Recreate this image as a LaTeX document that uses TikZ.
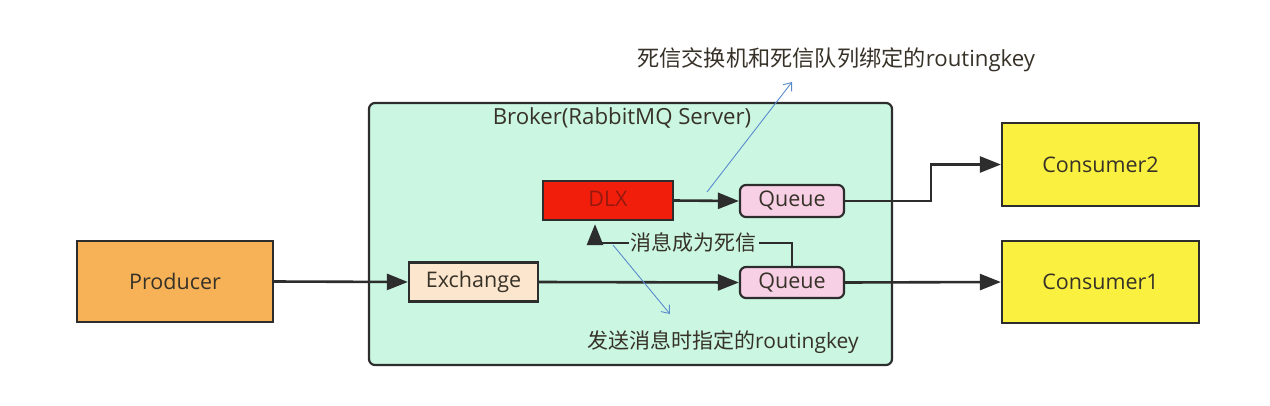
\documentclass[tikz,border=0pt]{standalone}
\usepackage{fontspec}
\setmainfont{Open Sans}
\newfontfamily\cjkf{Noto Sans CJK SC}
\newcommand\zh[1]{{\cjkf #1}}
\usetikzlibrary{arrows.meta,calc}
\definecolor{brokerfill}{RGB}{202,246,226}
\definecolor{prodfill}{RGB}{247,178,88}
\definecolor{exfill}{RGB}{252,230,206}
\definecolor{dlxfill}{RGB}{240,30,10}
\definecolor{dlxtext}{RGB}{150,25,15}
\definecolor{qfill}{RGB}{248,208,230}
\definecolor{consfill}{RGB}{250,240,64}
\definecolor{linec}{RGB}{45,45,45}
\definecolor{textc}{RGB}{55,50,40}
\definecolor{bluec}{RGB}{90,140,205}
\tikzset{
  box/.style={draw=linec, line width=2.2pt, font=\fontsize{21.5}{24}\selectfont, text=textc, inner sep=0pt},
  arr/.style={draw=linec, line width=2.6pt, -{Triangle[length=21pt,width=16pt]}},
  bluearr/.style={draw=bluec, line width=0.9pt, -{Straight Barb[length=7pt,width=11pt]}},
  lbl/.style={font=\fontsize{21}{24}\selectfont, text=textc, inner sep=1pt},
  biglbl/.style={font=\fontsize{22.2}{26}\selectfont, text=textc, inner sep=1pt}
}
\begin{document}
\begin{tikzpicture}[x=1pt,y=-1pt]
\useasboundingbox (0,0) rectangle (1270,405);
% broker
\node[box, fill=brokerfill, rounded corners=6pt, minimum width=523pt, minimum height=262pt] (broker) at (630.5,234) {};
\node[biglbl, anchor=center] (brokerlbl) at (622,118) {Broker(RabbitMQ Server)};
% nodes
\node[box, fill=prodfill, minimum width=196pt, minimum height=81pt] (prod) at (175,281.5) {Producer};
\node[box, fill=exfill, minimum width=129pt, minimum height=39pt] (ex) at (473.5,282) {\raisebox{3pt}{Exchange}};
\node[box, fill=dlxfill, text=dlxtext, minimum width=130pt, minimum height=39pt] (dlx) at (608,200.5) {\raisebox{4pt}{DLX}};
\node[box, fill=qfill, rounded corners=6pt, minimum width=104pt, minimum height=32pt] (q2) at (792,201) {Queue};
\node[box, fill=qfill, rounded corners=6pt, minimum width=104pt, minimum height=31pt] (q1) at (792,282.5) {Queue};
\node[box, fill=consfill, minimum width=197pt, minimum height=83pt] (c2) at (1100.5,164.5) {Consumer2};
\node[box, fill=consfill, minimum width=197pt, minimum height=82pt] (c1) at (1100.5,282) {Consumer1};
% connectors
\draw[arr] (prod.east) -- (ex.west);
\draw[arr] (ex.east) -- (q1.west);
\draw[arr] (dlx.east) -- (q2.west);
\draw[arr] (q2.east) -- ++(86,0) |- (c2.west);
\draw[arr] (q1.east) -- (c1.west);
\coordinate (dlxin) at ($(dlx.south)+(-13,3)$);
\draw[arr] (q1.north) -- ++(0,-23) -| node[pos=0.25, fill=brokerfill, lbl, inner sep=2pt] (deadlbl) {\zh{消息成为死信}} (dlxin);
% blue annotation arrows
\coordinate (b1s) at (707,192);
\coordinate (b1e) at (792,82);
\coordinate (b2s) at (613,245);
\coordinate (b2e) at (670,314);
\draw[bluearr] (b1s) -- (b1e);
\draw[bluearr] (b2s) -- (b2e);
% labels
\node[biglbl, anchor=west] (toplbl) at (636,60) {\zh{死信交换机和死信队列绑定的}routingkey};
\node[lbl, anchor=west] (botlbl) at (586,342) {\zh{发送消息时指定的}routingkey};
\end{tikzpicture}
\end{document}
